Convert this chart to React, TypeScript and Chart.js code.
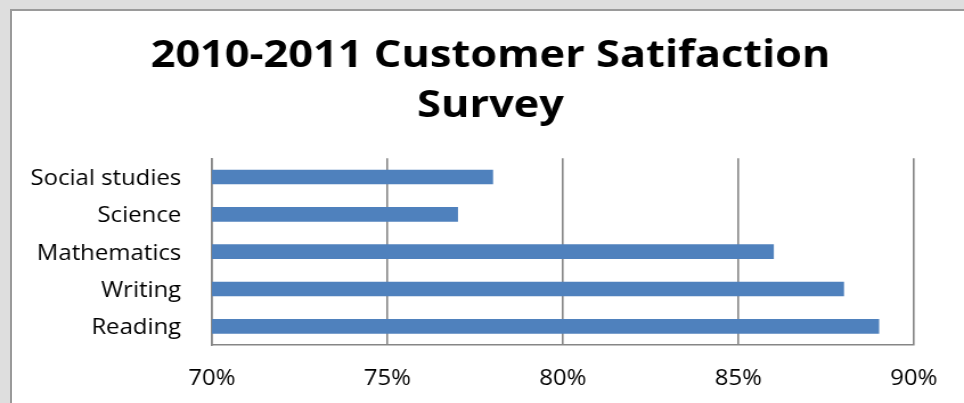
import React, { useEffect, useRef } from "react";
import { Chart, registerables } from "chart.js";

Chart.register(...registerables);

const titleLines = ["2010-2011 Customer Satifaction", "Survey"];
const categories = ["Social studies", "Science", "Mathematics", "Writing", "Reading"];
const satisfaction = [78, 77, 86, 88, 89];
const axisMin = 70;
const axisMax = 90;
const axisStep = 5;

const STRETCH = 1.14;
const PAGE_W = 964;
const PAGE_H = 403;
const LOGICAL_W = Math.round(PAGE_W / STRETCH);

export default function App() {
  const ref = useRef<HTMLCanvasElement | null>(null);

  useEffect(() => {
    document.body.style.margin = "0";
    const canvas = ref.current;
    if (!canvas) return;
    const chart = new Chart(canvas, {
      type: "bar",
      data: {
        labels: categories,
        datasets: [
          {
            data: satisfaction,
            backgroundColor: "#4f81bd",
            borderWidth: 0,
            barThickness: 14,
          },
        ],
      },
      options: {
        indexAxis: "y",
        animation: false,
        responsive: false,
        devicePixelRatio: 1,
        layout: { padding: { left: 15, right: 0, top: 0, bottom: 0 } },
        plugins: {
          legend: { display: false },
          tooltip: { enabled: false },
          title: {
            display: true,
            text: titleLines,
            color: "#000",
            font: { family: "'Open Sans'", size: 38, weight: "bold", lineHeight: 1.32 },
            padding: { top: 31, bottom: 27 },
          },
        },
        scales: {
          x: {
            min: axisMin,
            max: axisMax,
            ticks: {
              stepSize: axisStep,
              color: "#000",
              font: { family: "'Open Sans'", size: 21 },
              padding: 21,
              maxRotation: 0,
              callback: (v: any) => v + "%",
            },
            grid: { color: "#868686", lineWidth: 1.6, drawTicks: false },
            border: { display: true, color: "#868686", width: 1.6 },
            afterFit: (s: any) => {
              s.height = 58;
              s.paddingRight = 44;
            },
          },
          y: {
            ticks: {
              color: "#000",
              font: { family: "'Open Sans'", size: 21 },
              padding: 27,
              labelOffset: 2,
            },
            grid: { display: false, drawTicks: false },
            border: { display: true, color: "#868686", width: 1.6 },
            afterFit: (s: any) => {
              s.width = 171;
            },
          },
        },
      },
    });
    return () => chart.destroy();
  }, []);

  return (
    <div style={{ position: "relative", width: PAGE_W, height: PAGE_H, background: "#dedede", overflow: "hidden" }}>
      <div
        style={{
          position: "absolute",
          left: 10,
          top: 9,
          width: 980,
          height: 410,
          background: "#fff",
          borderTop: "2px solid #9a9a9a",
          borderLeft: "2px solid #9a9a9a",
        }}
      />
      <canvas
        ref={ref}
        width={LOGICAL_W}
        height={PAGE_H}
        style={{ position: "absolute", left: 0, top: 0, width: PAGE_W + "px", height: PAGE_H + "px" }}
      />
    </div>
  );
}
